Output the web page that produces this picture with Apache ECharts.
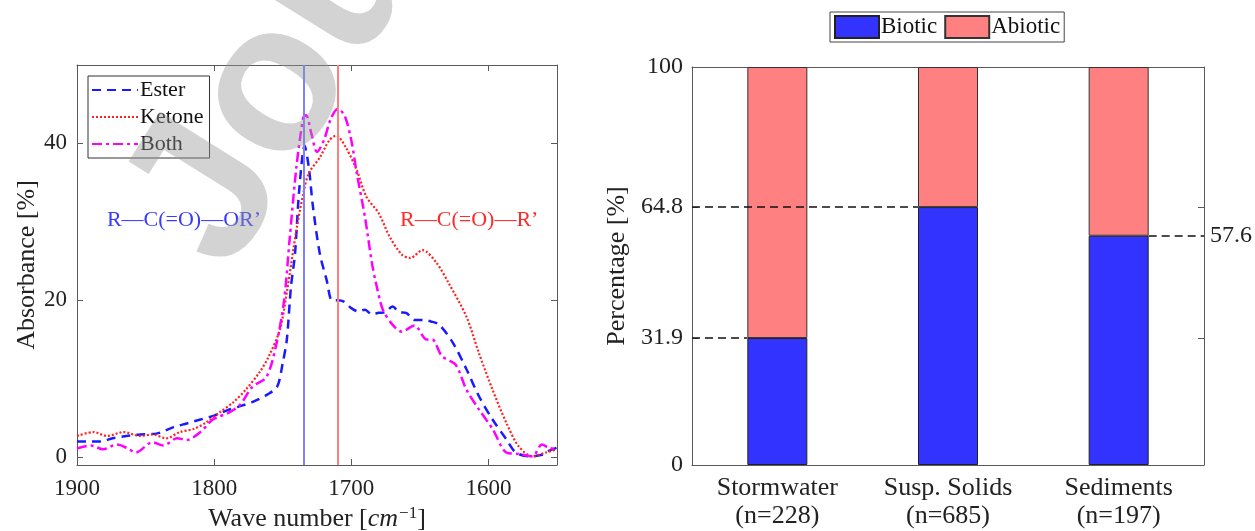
<!DOCTYPE html>
<html>
<head>
<meta charset="utf-8">
<script src="https://cdn.jsdelivr.net/npm/echarts@6/dist/echarts.min.js"></script>
<style>
  html, body { margin: 0; padding: 0; background: #fff; }
  #chart { width: 1255px; height: 531px; }
</style>
</head>
<body>
<div id="chart"></div>
<script>
// left panel: FTIR spectra (wave number -> absorbance %)
var esterX = [1900,1883,1874,1864,1854,1842,1830,1820,1810,1800,1790,1781,1771,1761,1754,1750,1747,1744,1741,1738,1734,1731,1728,1723,1718,1714,1710,1705,1700,1695,1690,1685,1680,1675,1670,1665,1660,1654,1648,1642,1636,1626,1616,1607,1597,1587,1580,1570,1561,1556,1550];
var esterY = [2.0,2.0,2.4,2.7,2.9,3.0,3.8,4.3,4.8,5.3,6.0,6.5,7.1,8.0,9.0,12,15,21.7,26,34,39.7,37,32,26,22.6,20,20,19.8,19,18.6,18.8,18.2,18.4,18.5,19.2,18.5,18.4,17.5,17.5,17.3,16.9,14.6,11.2,7.8,4.8,2.3,0.6,0.1,0.3,0.8,1.2];

var ketoneX = [1900,1888,1878,1866,1854,1845,1835,1825,1815,1806,1796,1786,1777,1767,1760,1752,1747,1740,1735,1731,1723,1716,1711,1704,1696,1689,1680,1672,1663,1657,1648,1638,1629,1616,1607,1597,1587,1578,1568,1558,1550];
var ketoneY = [2.7,3.2,2.7,3.2,2.7,2.9,2.4,3.2,3.6,4.4,5.7,7.0,8.6,10.8,12.9,16.3,21,29,33.6,36.2,38.2,40.4,41,39.5,36.6,33.2,31.1,28.1,25.8,25.4,26.4,24.8,22.2,17.9,13.3,8.6,4.4,1.4,0.1,0.6,1.0];

var bothX = [1900,1890,1881,1871,1864,1857,1845,1837,1827,1820,1810,1801,1789,1781,1772,1762,1755,1749,1745,1740,1735,1733,1729,1725,1720,1715,1710,1705,1700,1696,1690,1685,1682,1677,1670,1663,1654,1645,1641,1634,1624,1616,1607,1597,1587,1578,1568,1561,1556,1550];
var bothY = [1.1,1.5,1.0,1.6,1.2,0.6,1.9,1.5,2.4,2.2,3.2,4.8,5.7,6.7,9.0,10.2,14.1,20,27.7,37,43.3,43.6,41.2,38.9,40.4,43.1,44.4,43.6,40.4,36.2,30.6,24.8,22.2,18.8,16.9,16,16.8,15,15,12.9,11.8,8.6,6.1,3.6,0.6,0.4,0.1,1.6,1.2,1.0];

var waveTicks = [1900, 1800, 1700, 1600];
var absTicks = [0, 20, 40];
var esterPeak = 1735;   // R-C(=O)-OR'
var ketonePeak = 1710;  // R-C(=O)-R'

// right panel: biotic / abiotic share
var sites = ['Stormwater', 'Susp. Solids', 'Sediments'];
var siteN = [228, 685, 197];
var biotic = [31.9, 64.8, 57.6];
var abiotic = [68.1, 35.2, 42.4];
var pctTicks = [0, 31.9, 64.8, 100];

function pairs(xs, ys) {
    var res = [];
    for (var i = 0; i < xs.length; i++) {
        res.push([xs[i], ys[i]]);
    }
    return res;
}

var serif = 'Liberation Serif';
var axisCol = '#5a5a5a';
var barW = 60;
var rightGridW = 512;
var halfBar = (barW / 2) / (rightGridW / sites.length);

function boxAxis(extra) {
    var base = {
        axisLine: {show: true, onZero: false, lineStyle: {color: axisCol, width: 1}},
        axisTick: {show: true, inside: true, length: 6, lineStyle: {color: axisCol}},
        splitLine: {show: false},
        axisLabel: {show: false}
    };
    for (var k in extra) base[k] = extra[k];
    return base;
}

var myChart = echarts.init(document.getElementById('chart'));
myChart.setOption({
    backgroundColor: '#fff',
    animation: false,
    textStyle: {fontFamily: serif, color: '#222'},
    grid: [
        {left: 77, top: 65, width: 480, height: 400, outerBoundsMode: 'none'},
        {left: 692, top: 67, width: rightGridW, height: 398, outerBoundsMode: 'none'}
    ],
    legend: [
        {
            data: ['Ester', 'Ketone', 'Both'],
            orient: 'vertical',
            left: 88, top: 76,
            itemWidth: 46, itemHeight: 12, itemGap: 5,
            padding: [3, 6, 3, 3],
            borderColor: '#333', borderWidth: 1,
            backgroundColor: '#fff',
            itemStyle: {opacity: 0},
            textStyle: {fontFamily: serif, fontSize: 22, color: '#111', padding: [0, 0, 0, -3]}
        },
        {
            data: ['Biotic', 'Abiotic'],
            left: 830, top: 12,
            icon: 'rect',
            itemWidth: 44, itemHeight: 22, itemGap: 7,
            padding: [3, 4, 3, 4],
            borderColor: '#444', borderWidth: 1,
            textStyle: {fontFamily: serif, fontSize: 23, color: '#111', padding: [0, 0, 0, -3]}
        }
    ],
    xAxis: [
        boxAxis({
            type: 'value', gridIndex: 0, inverse: true, min: 1550, max: 1900,
            name: '{n|Wave number [}{i|cm}{s|−1}{n|]}',
            nameLocation: 'middle', nameGap: 40,
            nameTextStyle: {
                rich: {
                    n: {fontFamily: serif, fontSize: 26, color: '#222'},
                    i: {fontFamily: serif, fontSize: 26, fontStyle: 'italic', color: '#222'},
                    s: {fontFamily: serif, fontSize: 17, color: '#222', padding: [0, 0, 12, 1]}
                }
            },
            axisTick: {show: true, inside: true, length: 6, customValues: waveTicks, lineStyle: {color: axisCol}},
            axisLabel: {
                show: true, customValues: waveTicks, fontFamily: serif, fontSize: 23, color: '#222', margin: 12,
                formatter: function (v) { return String(v); }
            }
        }),
        boxAxis({
            type: 'value', gridIndex: 0, inverse: true, min: 1550, max: 1900, position: 'top',
            axisTick: {show: true, inside: true, length: 6, customValues: waveTicks, lineStyle: {color: axisCol}}
        }),
        boxAxis({
            type: 'category', gridIndex: 1, data: sites,
            axisTick: {show: true, inside: true, length: 6, alignWithLabel: true, lineStyle: {color: axisCol}},
            axisLabel: {
                show: true, margin: 9, interval: 0,
                fontFamily: serif, fontSize: 26, color: '#222', lineHeight: 28,
                formatter: function (v, i) {
                    return v + '\n(n=' + siteN[i] + ')';
                }
            }
        }),
        boxAxis({
            type: 'category', gridIndex: 1, data: sites, position: 'top',
            axisTick: {show: true, inside: true, length: 6, alignWithLabel: true, lineStyle: {color: axisCol}}
        }),
        {
            // helper axis for the dashed guide lines
            type: 'value', gridIndex: 1, min: -0.5, max: 2.5, show: false
        }
    ],
    yAxis: [
        boxAxis({
            type: 'value', gridIndex: 0, min: -1, max: 50,
            name: 'Absorbance [%]', nameLocation: 'middle', nameGap: 34,
            nameTextStyle: {fontFamily: serif, fontSize: 26, color: '#222'},
            axisTick: {show: true, inside: true, length: 6, customValues: absTicks, lineStyle: {color: axisCol}},
            axisLabel: {show: true, customValues: absTicks, fontFamily: serif, fontSize: 23, color: '#222', margin: 10}
        }),
        boxAxis({
            type: 'value', gridIndex: 0, min: -1, max: 50, position: 'right',
            axisTick: {show: true, inside: true, length: 6, customValues: absTicks, lineStyle: {color: axisCol}}
        }),
        boxAxis({
            type: 'value', gridIndex: 1, min: 0, max: 100,
            name: 'Percentage [%]', nameLocation: 'middle', nameGap: 62,
            nameTextStyle: {fontFamily: serif, fontSize: 26, color: '#222'},
            axisTick: {show: true, inside: true, length: 6, customValues: pctTicks, lineStyle: {color: axisCol}},
            axisLabel: {show: true, customValues: pctTicks, fontFamily: serif, fontSize: 24, color: '#222', margin: 9}
        }),
        boxAxis({
            type: 'value', gridIndex: 1, min: 0, max: 100, position: 'right',
            axisTick: {show: true, inside: true, length: 6, customValues: pctTicks, lineStyle: {color: axisCol}}
        })
    ],
    series: [
        {
            name: 'peaks', type: 'line', xAxisIndex: 0, yAxisIndex: 0, data: [],
            silent: true,
            markLine: {
                silent: true, symbol: 'none', animation: false,
                label: {show: false},
                data: [
                    {xAxis: esterPeak, lineStyle: {color: '#7f7fff', width: 2, type: 'solid'}},
                    {xAxis: ketonePeak, lineStyle: {color: '#ff7f7f', width: 2, type: 'solid'}}
                ]
            },
            markPoint: {
                silent: true, symbol: 'circle', symbolSize: 0,
                data: [
                    {coord: [1822, 30.2], label: {show: true, position: 'inside', formatter: 'R—C(=O)—OR’', color: '#3a3aff', fontFamily: serif, fontSize: 22}},
                    {coord: [1614, 30.2], label: {show: true, position: 'inside', formatter: 'R—C(=O)—R’', color: '#ff2a2a', fontFamily: serif, fontSize: 22}}
                ]
            }
        },
        {
            name: 'Ester', type: 'line', xAxisIndex: 0, yAxisIndex: 0,
            data: pairs(esterX, esterY), smooth: 0.3, symbol: 'none',
            color: '#1a1aff',
            lineStyle: {color: '#1a1aff', width: 2.5, type: [9, 6]}
        },
        {
            name: 'Ketone', type: 'line', xAxisIndex: 0, yAxisIndex: 0,
            data: pairs(ketoneX, ketoneY), smooth: 0.3, symbol: 'none',
            color: '#ff2020',
            lineStyle: {color: '#ff2020', width: 2.2, type: [2, 2]}
        },
        {
            name: 'Both', type: 'line', xAxisIndex: 0, yAxisIndex: 0,
            data: pairs(bothX, bothY), smooth: 0.3, symbol: 'none',
            color: '#ff00ff',
            lineStyle: {color: '#ff00ff', width: 2.5, type: [10, 4, 3, 4]}
        },
        {
            name: 'Biotic', type: 'bar', xAxisIndex: 2, yAxisIndex: 2, stack: 'share',
            barWidth: barW,
            data: biotic,
            itemStyle: {color: '#3333ff', borderColor: '#222', borderWidth: 1}
        },
        {
            name: 'Abiotic', type: 'bar', xAxisIndex: 2, yAxisIndex: 2, stack: 'share',
            barWidth: barW,
            data: abiotic,
            itemStyle: {color: '#ff8080', borderColor: '#333', borderWidth: 1}
        },
        {
            name: 'guides', type: 'line', xAxisIndex: 4, yAxisIndex: 2, data: [],
            silent: true,
            markLine: {
                silent: true, symbol: 'none', animation: false,
                lineStyle: {color: '#111', type: [8, 5], width: 1.5},
                label: {show: false},
                data: [
                    [{coord: [-0.5, biotic[0]]}, {coord: [0 - halfBar, biotic[0]]}],
                    [{coord: [-0.5, biotic[1]]}, {coord: [1 - halfBar, biotic[1]]}],
                    [{coord: [2 + halfBar, biotic[2]]}, {coord: [2.5, biotic[2]],
                        label: {show: true, position: 'end', formatter: String(biotic[2]), fontFamily: serif, fontSize: 24, color: '#222', distance: 6}}]
                ]
            }
        }
    ],
    graphic: [
        {
            // watermark of the source page
            type: 'text', z: 100, silent: true,
            x: 268, y: 300, rotation: 58 * Math.PI / 180,
            style: {
                text: 'Journal Pre-proof',
                font: 'bold 210px "Liberation Sans"',
                fill: 'rgba(150,150,150,0.42)',
                textAlign: 'left', textVerticalAlign: 'bottom'
            }
        }
    ]
});
</script>
</body>
</html>
